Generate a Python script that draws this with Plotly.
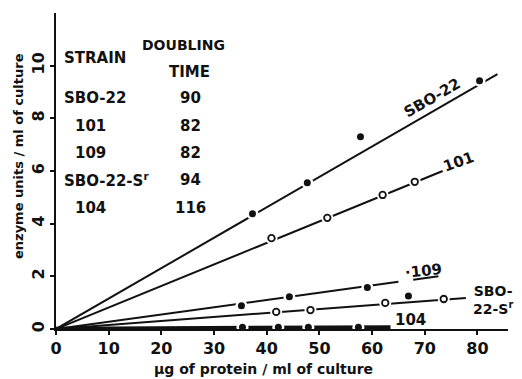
import plotly.graph_objects as go

# ---- data ----
strains = ["SBO-22", "101", "109", "SBO-22-S<sup>r</sup>", "104"]
doubling_time = [90, 82, 82, 94, 116]

# fitted lines through origin: end points
line_end_x = [83.8, 73.4, 65.0, 77.8, 63.5]
line_end_y = [9.68, 6.00, 1.79, 1.18, 0.06]

sbo22_x = [37.3, 47.7, 80.4]
sbo22_y = [4.38, 5.55, 9.43]
sbo22_off_x = [57.8]
sbo22_off_y = [7.30]

s101_x = [40.9, 51.5, 62.0, 68.1]
s101_y = [3.45, 4.22, 5.09, 5.59]

s109_x = [35.2, 44.3, 59.1]
s109_y = [0.88, 1.22, 1.58]

sr_x = [41.8, 48.3, 62.5, 73.6]
sr_y = [0.65, 0.72, 0.99, 1.14]
sr_off_x = [66.9]
sr_off_y = [1.25]

s104_x = [35.4, 42.2, 47.9, 57.4]
s104_y = [0.07, 0.07, 0.07, 0.07]

x_ticks = [0, 10, 20, 30, 40, 50, 60, 70, 80]
y_ticks = [0, 2, 4, 6, 8, 10]

FONT = "DejaVu Sans"
BLACK = "#111111"

fig = go.Figure()

widths = [2, 2, 2, 2, 4.5]
for i in range(5):
    fig.add_trace(go.Scatter(x=[0, line_end_x[i]], y=[0, line_end_y[i]], mode="lines",
                             line=dict(color=BLACK, width=widths[i]),
                             hoverinfo="skip", showlegend=False))

# underline of "109" label (continuation of 109 line)
slope109 = line_end_y[2] / line_end_x[2]
fig.add_trace(go.Scatter(x=[67.8, 72.6], y=[slope109 * 67.8, slope109 * 72.6], mode="lines",
                         line=dict(color=BLACK, width=2), hoverinfo="skip", showlegend=False))

# white halos (gaps in the lines around points)
for xs, ys in [(sbo22_x, sbo22_y), (s101_x, s101_y), (s109_x, s109_y), (sr_x, sr_y), (s104_x, s104_y)]:
    fig.add_trace(go.Scatter(x=xs, y=ys, mode="markers",
                             marker=dict(color="white", size=12, line=dict(width=0)),
                             hoverinfo="skip", showlegend=False))

# filled points
for xs, ys in [(sbo22_x, sbo22_y), (sbo22_off_x, sbo22_off_y), (s109_x, s109_y),
               (sr_off_x, sr_off_y), (s104_x, s104_y)]:
    fig.add_trace(go.Scatter(x=xs, y=ys, mode="markers",
                             marker=dict(color=BLACK, size=7, line=dict(width=0)),
                             hoverinfo="skip", showlegend=False))
# open points
for xs, ys in [(s101_x, s101_y), (sr_x, sr_y)]:
    fig.add_trace(go.Scatter(x=xs, y=ys, mode="markers",
                             marker=dict(color="white", size=6.5, line=dict(width=1.8, color=BLACK)),
                             hoverinfo="skip", showlegend=False))

W, H = 522, 379
L, R, T, B = 56, 14, 13, 50
pw, ph = W - L - R, H - T - B


def px2paper(px, py):
    return (px - L) / pw, (H - B - py) / ph


anns = []


def txt(text, px, py, size=15, anchor="center", angle=0):
    x, y = px2paper(px, py)
    anns.append(dict(text=text, x=x, y=y, xref="paper", yref="paper", showarrow=False,
                     xanchor=anchor, yanchor="middle", textangle=angle,
                     font=dict(family=FONT, size=size, color=BLACK, weight="bold")))


# table
txt("STRAIN", 62, 58, anchor="left")
txt("DOUBLING", 183, 45, size=14)
txt("TIME", 189, 72)
row_y = [98, 126, 153, 180, 208]
for s, t, yy in zip(strains, doubling_time, row_y):
    if s.startswith("SBO"):
        txt(s, 62, yy, anchor="left")
    else:
        txt(s, 90, yy)
    txt(str(t), 190, yy)

# line labels
txt("SBO-22", 432, 98, angle=-30)
txt("101", 458, 162, angle=-20)
txt("·109", 423, 271, angle=-6)
txt("SBO-<br>22-S<sup>r</sup>", 471, 300, size=14, anchor="left")
txt("104", 410, 320)

# axis titles
txt("enzyme units / ml of culture", 18, 156, size=13, angle=-90)
txt("μg of protein / ml of culture", 263, 369, size=14)

fig.update_layout(
    width=W, height=H,
    margin=dict(l=L, r=R, t=T, b=B),
    paper_bgcolor="white", plot_bgcolor="white",
    annotations=anns,
    xaxis=dict(range=[0, 85.8], tickvals=x_ticks, ticktext=[str(v) for v in x_ticks],
               showgrid=False, zeroline=False, showline=True, linecolor=BLACK, linewidth=2,
               ticks="outside", ticklen=4, tickwidth=2, tickcolor=BLACK,
               tickfont=dict(family=FONT, size=16, color=BLACK, weight="bold")),
    yaxis=dict(range=[0, 12], tickvals=y_ticks, ticktext=[str(v) for v in y_ticks],
               showgrid=False, zeroline=False, showline=True, linecolor=BLACK, linewidth=2,
               ticks="outside", ticklen=4, tickwidth=2, tickcolor=BLACK, tickangle=-90,
               tickfont=dict(family=FONT, size=16, color=BLACK, weight="bold")),
)

fig.write_html("out.html", config={"displayModeBar": False},
               post_script="document.body.style.margin='0';")
